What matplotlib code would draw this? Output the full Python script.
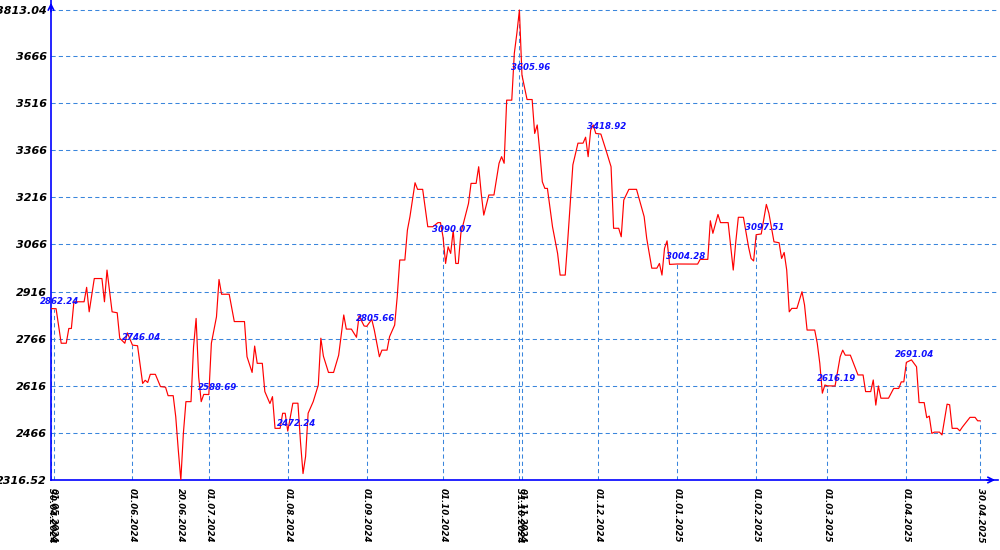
import datetime as dt
import matplotlib
matplotlib.use("Agg")
import matplotlib.pyplot as plt

START = dt.date(2024, 4, 30)

# day offsets from 30.04.2024 and closing values
days = [0, 1, 2, 4, 6, 7, 8, 9, 13, 14, 15, 17, 20, 21, 22, 24, 26, 27, 29, 30,
        32, 34, 36, 37, 38, 39, 41, 43, 45, 46, 48, 49, 50, 51, 52, 53, 55, 56, 57, 58,
        59, 60, 62, 63, 65, 66, 67, 70, 72, 76, 77, 79, 80, 81, 83, 84, 86, 87, 88, 90,
        91, 92, 93, 95, 97, 98, 99, 100, 101, 103, 105, 106, 107, 109, 111, 113, 115, 116, 118, 120,
        121, 123, 124, 126, 127, 129, 130, 132, 133, 135, 136, 137, 139, 140, 141, 143, 144, 146, 148, 150,
        152, 153, 154, 155, 156, 157, 158, 159, 160, 161, 163, 164, 165, 167, 168, 169, 170, 172, 174, 176,
        177, 178, 179, 181, 182, 183, 184, 185, 187, 189, 190, 191, 192, 193, 194, 195, 197, 199, 200, 202,
        203, 205, 207, 209, 210, 211, 212, 213, 214, 215, 216, 218, 220, 221, 223, 224, 225, 227, 230, 233,
        234, 236, 238, 239, 240, 241, 242, 243, 246, 254, 255, 258, 259, 260, 262, 263, 266, 267, 268, 269,
        270, 272, 274, 275, 276, 277, 279, 281, 282, 284, 286, 287, 288, 289, 290, 291, 293, 295, 296, 297,
        300, 301, 302, 303, 304, 305, 308, 310, 311, 312, 314, 316, 317, 319, 320, 322, 323, 324, 325, 326,
        329, 331, 333, 334, 335, 336, 338, 340, 341, 343, 344, 345, 346, 347, 349, 350, 352, 353, 354, 356,
        357, 358, 361, 363, 364, 365]
prices = [2862.24, 2862.24, 2862, 2752, 2752, 2799, 2799, 2884, 2884, 2930, 2852, 2958, 2958, 2884, 2985, 2852, 2849, 2768, 2752, 2785,
          2746.04, 2744, 2624, 2634, 2627, 2653, 2653, 2614, 2612, 2585, 2585, 2518, 2412, 2316.52, 2465, 2566, 2566, 2741, 2831, 2645,
          2566, 2589, 2588.69, 2752, 2836, 2955, 2908, 2908, 2821, 2821, 2709, 2659, 2743, 2688, 2688, 2598, 2560, 2582, 2481, 2481,
          2529, 2529, 2472.24, 2561, 2561, 2438, 2337, 2391, 2529, 2566, 2619, 2768, 2711, 2659, 2659, 2714, 2842, 2797, 2797, 2771,
          2839, 2807, 2805.66, 2828, 2794, 2709, 2730, 2730, 2773, 2810, 2900, 3017, 3017, 3112, 3155, 3263, 3242, 3242, 3123, 3123,
          3136, 3136, 3090.07, 3006, 3059, 3038, 3112, 3006, 3006, 3102, 3166, 3197, 3261, 3261, 3314, 3229, 3160, 3224, 3224, 3325,
          3346, 3325, 3526, 3526, 3675, 3739, 3813.04, 3605.96, 3528, 3528, 3420, 3447, 3362, 3266, 3245, 3245, 3123, 3038, 2969, 2969,
          3081, 3320, 3389, 3389, 3408, 3346, 3431, 3447, 3420, 3418.92, 3418, 3367, 3314, 3118, 3118, 3091, 3208, 3242, 3242, 3155,
          3086, 2991, 2991, 3006, 2969, 3054, 3078, 3003, 3004.28, 3004, 3019, 3019, 3142, 3102, 3162, 3136, 3136, 3059, 2985, 3075,
          3153, 3153, 3059, 3022, 3014, 3097.51, 3100, 3194, 3166, 3075, 3072, 3022, 3041, 2985, 2852, 2863, 2863, 2916, 2874, 2794,
          2794, 2752, 2688, 2593, 2619, 2616.19, 2616, 2709, 2730, 2714, 2714, 2672, 2651, 2651, 2598, 2598, 2635, 2555, 2616, 2577,
          2577, 2608, 2608, 2629, 2629, 2691.04, 2699, 2677, 2563, 2563, 2515, 2520, 2465, 2469, 2469, 2460, 2558, 2556, 2481, 2481,
          2473, 2485, 2516, 2516, 2505, 2505]

tick_dates = ["30.04.2024", "01.05.2024", "01.06.2024", "20.06.2024", "01.07.2024",
              "01.08.2024", "01.09.2024", "01.10.2024", "31.10.2024", "01.11.2024",
              "01.12.2024", "01.01.2025", "01.02.2025", "01.03.2025", "01.04.2025",
              "30.04.2025"]
label_dates = ["30.04.2024", "01.06.2024", "01.07.2024", "01.08.2024", "01.09.2024",
               "01.10.2024", "01.11.2024", "01.12.2024", "01.01.2025", "01.02.2025",
               "01.03.2025", "01.04.2025"]

y_min, y_max = 2316.52, 3813.04
y_step = 150

GRID = "#3a86dc"
DASH = (0, (4, 3))
FONT = dict(family="DejaVu Sans", weight="bold", style="italic")


def day_of(s):
    return (dt.datetime.strptime(s, "%d.%m.%Y").date() - START).days


value_at = dict(zip(days, prices))

fig = plt.figure(figsize=(10, 5.5), dpi=100)
ax = fig.add_axes([0.051, 70 / 550, 0.947, 480 / 550])
ax.set_xlim(0, 372)
ax.set_ylim(y_min, y_max + 10 * (y_max - y_min) / 470)

# y ticks: min, then every 150, then max
yt = [y_min + k * y_step for k in range(int((y_max - y_min) // y_step) + 1)] + [y_max]
ylabels = [f"{y_min:.2f}"] + [str(int(v)) for v in yt[1:-1]] + [f"{y_max:.2f}"]
ax.set_yticks(yt)
ax.set_yticklabels(ylabels, fontsize=8, **FONT)
for v in yt[1:]:
    ax.axhline(v, color=GRID, lw=0.75, ls=DASH, zorder=1)

xt = [day_of(s) for s in tick_dates]
ax.set_xticks(xt)
ax.set_xticklabels(tick_dates, rotation=270, fontsize=6.2, va="top", ha="center", **FONT)
ax.tick_params(length=0)
ax.tick_params(axis="y", pad=3)
ax.tick_params(axis="x", pad=6)

for s in tick_dates:
    d = day_of(s)
    ax.vlines(d, y_min, value_at[d], color=GRID, lw=0.75, ls=DASH, zorder=1)

ax.plot(days, prices, color="red", lw=0.85, zorder=3)

for s in label_dates:
    d = day_of(s)
    v = value_at[d]
    ax.annotate(f"{v:.2f}", (d, v), xytext=(-11, 5), textcoords="offset pixels",
                ha="left", va="baseline", color="#1010ff", fontsize=6.2, zorder=4, **FONT)

for side in ("top", "right"):
    ax.spines[side].set_visible(False)
for side in ("left", "bottom"):
    ax.spines[side].set_color("blue")
    ax.spines[side].set_linewidth(1.2)

ax.annotate("", xy=(0, 1.0), xycoords="axes fraction", xytext=(0, 0.97),
            arrowprops=dict(arrowstyle="->", color="blue", lw=1.2), annotation_clip=False)
ax.annotate("", xy=(1.0, 0), xycoords="axes fraction", xytext=(0.985, 0),
            arrowprops=dict(arrowstyle="->", color="blue", lw=1.2), annotation_clip=False)

fig.savefig("out.png", dpi=100)
